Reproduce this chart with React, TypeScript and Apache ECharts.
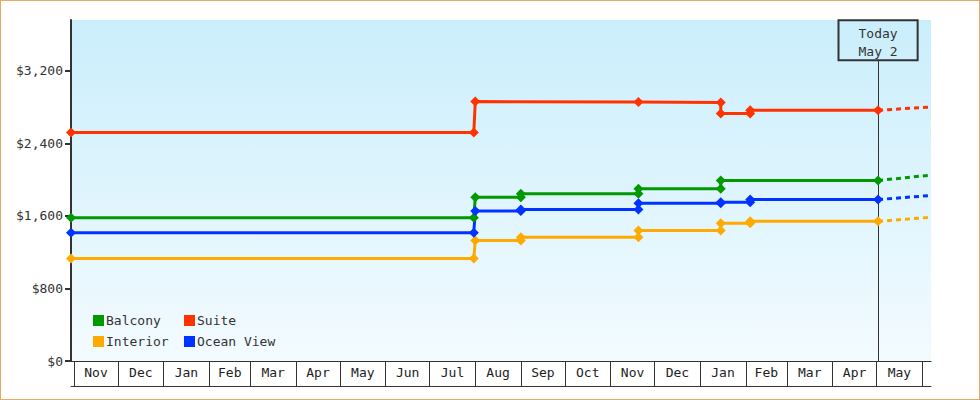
import { useEffect, useRef } from "react";
import * as echarts from "echarts";

const MONTH_NAMES = ["Jan", "Feb", "Mar", "Apr", "May", "Jun", "Jul", "Aug", "Sep", "Oct", "Nov", "Dec"];

// month boundaries drawn as the boxes under the axis
const MONTH_STARTS = [
  "2013-11-01", "2013-12-01", "2014-01-01", "2014-02-01", "2014-03-01", "2014-04-01",
  "2014-05-01", "2014-06-01", "2014-07-01", "2014-08-01", "2014-09-01", "2014-10-01",
  "2014-11-01", "2014-12-01", "2015-01-01", "2015-02-01", "2015-03-01", "2015-04-01",
  "2015-05-01", "2015-06-01",
];

const AXIS_START = "2013-10-30";
const AXIS_END = "2015-06-07";
const TODAY = "2015-05-02";
const TODAY_LABEL = "Today\nMay 2";

const PRICE_TICKS = [0, 800, 1600, 2400, 3200];
const PRICE_MAX = 3760;
const TODAY_BOX_BASE = 3315;

const balcony: [string, number][] = [
  ["2013-10-30", 1580],
  ["2014-07-31", 1580],
  ["2014-08-01", 1805],
  ["2014-09-01", 1805],
  ["2014-09-01", 1845],
  ["2014-11-20", 1845],
  ["2014-11-20", 1900],
  ["2015-01-15", 1900],
  ["2015-01-15", 1990],
  ["2015-05-02", 1990],
];

const suite: [string, number][] = [
  ["2013-10-30", 2520],
  ["2014-07-31", 2520],
  ["2014-08-01", 2860],
  ["2014-11-20", 2855],
  ["2015-01-15", 2850],
  ["2015-01-15", 2730],
  ["2015-02-04", 2730],
  ["2015-02-04", 2765],
  ["2015-05-02", 2765],
];

const interior: [string, number][] = [
  ["2013-10-30", 1130],
  ["2014-07-31", 1130],
  ["2014-08-01", 1330],
  ["2014-09-01", 1330],
  ["2014-09-01", 1365],
  ["2014-11-20", 1365],
  ["2014-11-20", 1440],
  ["2015-01-15", 1440],
  ["2015-01-15", 1520],
  ["2015-02-04", 1520],
  ["2015-02-04", 1540],
  ["2015-05-02", 1540],
];

const oceanView: [string, number][] = [
  ["2013-10-30", 1415],
  ["2014-07-31", 1415],
  ["2014-08-01", 1655],
  ["2014-09-01", 1655],
  ["2014-09-01", 1670],
  ["2014-11-20", 1670],
  ["2014-11-20", 1740],
  ["2015-01-15", 1740],
  ["2015-01-15", 1750],
  ["2015-02-04", 1750],
  ["2015-02-04", 1780],
  ["2015-05-02", 1780],
];

// dashed projection from today to the end of the axis
const balconyProjection: [string, number][] = [["2015-05-02", 1990], ["2015-06-07", 2050]];
const suiteProjection: [string, number][] = [["2015-05-02", 2765], ["2015-06-07", 2800]];
const interiorProjection: [string, number][] = [["2015-05-02", 1540], ["2015-06-07", 1585]];
const oceanViewProjection: [string, number][] = [["2015-05-02", 1780], ["2015-06-07", 1825]];

const CABINS = [
  { name: "Balcony", color: "#009900", points: balcony, projection: balconyProjection },
  { name: "Suite", color: "#ff3300", points: suite, projection: suiteProjection },
  { name: "Interior", color: "#ffaa00", points: interior, projection: interiorProjection },
  { name: "Ocean View", color: "#0033ff", points: oceanView, projection: oceanViewProjection },
];

const FONT = "'DejaVu Sans Mono', monospace";


function toTime(day: string): number {
  const [year, month, date] = day.split("-").map(Number);
  return new Date(year, month - 1, date).getTime();
}


function toSeriesData(points: [string, number][]): [number, number][] {
  return points.map(([day, price]) => [toTime(day), price]);
}


export default function App() {
  const containerRef = useRef<HTMLDivElement | null>(null);

  useEffect(() => {
    if (!containerRef.current) {
      return;
    }

    const chart = echarts.init(containerRef.current, undefined, { renderer: "svg" });

    const monthTicks = MONTH_STARTS.map(toTime);
    const monthMiddles = monthTicks.slice(0, -1).map((start, index) => (start + monthTicks[index + 1]) / 2);

    const legendCommon = {
      orient: "vertical" as const,
      icon: "rect",
      itemWidth: 11,
      itemHeight: 11,
      itemGap: 8,
      padding: 0,
      selectedMode: false,
      itemStyle: { borderWidth: 0 },
      textStyle: {
        fontFamily: FONT,
        fontSize: 13,
        color: "#333333",
        padding: [0, 0, 0, -3],
      },
    };

    const solidSeries = CABINS.map((cabin) => ({
      name: cabin.name,
      type: "line" as const,
      data: toSeriesData(cabin.points),
      color: cabin.color,
      z: 3,
      symbol: "diamond",
      symbolSize: 10,
      lineStyle: { width: 3, color: cabin.color },
      itemStyle: { color: cabin.color, borderWidth: 0 },
      emphasis: { disabled: true },
    }));

    const projectionSeries = CABINS.map((cabin) => ({
      name: cabin.name,
      type: "line" as const,
      data: toSeriesData(cabin.projection),
      color: cabin.color,
      z: 2,
      symbol: "none",
      lineStyle: { width: 3, color: cabin.color, type: [5, 4] },
      emphasis: { disabled: true },
    }));

    const option: echarts.EChartsOption = {
      animation: false,
      backgroundColor: "#ffffff",
      grid: {
        show: true,
        left: 70,
        right: 48,
        top: 19,
        bottom: 38,
        borderWidth: 0,
        backgroundColor: new echarts.graphic.LinearGradient(0, 0, 0, 1, [
          { offset: 0, color: "#caeefc" },
          { offset: 1, color: "#f3fbff" },
        ]),
      },
      legend: [
        { ...legendCommon, data: ["Balcony", "Interior"], left: 92, top: 313 },
        { ...legendCommon, data: ["Suite", "Ocean View"], left: 183, top: 313 },
      ],
      xAxis: [
        {
          type: "value",
          min: toTime(AXIS_START),
          max: toTime(AXIS_END),
          axisLine: { lineStyle: { color: "#333333", width: 1 } },
          axisTick: {
            show: true,
            customValues: monthTicks,
            length: 25,
            lineStyle: { color: "#333333", width: 1 },
          },
          axisLabel: {
            customValues: monthMiddles,
            formatter: (value: number) => MONTH_NAMES[new Date(value).getMonth()],
            margin: 5,
            color: "#222222",
            fontFamily: FONT,
            fontSize: 13,
          },
          splitLine: { show: false },
        },
        {
          type: "value",
          position: "bottom",
          offset: 25,
          min: toTime(AXIS_START),
          max: toTime(AXIS_END),
          axisLine: { show: true, lineStyle: { color: "#333333", width: 1 } },
          axisTick: { show: false },
          axisLabel: { show: false },
          splitLine: { show: false },
        },
      ],
      yAxis: {
        type: "value",
        min: 0,
        max: PRICE_MAX,
        axisLine: { show: true, lineStyle: { color: "#333333", width: 2 } },
        axisTick: {
          show: true,
          customValues: PRICE_TICKS,
          length: 6,
          lineStyle: { color: "#333333", width: 2 },
        },
        axisLabel: {
          customValues: PRICE_TICKS,
          formatter: (value: number) => "$" + value.toLocaleString("en-US"),
          margin: 8,
          color: "#333333",
          fontFamily: FONT,
          fontSize: 13,
        },
        splitLine: { show: false },
      },
      series: [
        ...solidSeries,
        ...projectionSeries,
        {
          name: "today",
          type: "line",
          data: [],
          z: 1,
          markLine: {
            silent: true,
            symbol: "none",
            z: 1,
            lineStyle: { color: "#333333", width: 1, type: "solid" },
            label: {
              show: true,
              position: "end",
              distance: 0,
              formatter: TODAY_LABEL,
              fontFamily: FONT,
              fontSize: 13,
              lineHeight: 18,
              color: "#333333",
              align: "center",
              padding: [4, 20, 0, 20],
              borderColor: "#333333",
              borderWidth: 1,
              backgroundColor: "transparent",
            },
            data: [
              [
                { coord: [toTime(TODAY), 0] },
                { coord: [toTime(TODAY), TODAY_BOX_BASE] },
              ],
            ],
          },
        },
      ],
    };

    chart.setOption(option);

    return () => {
      chart.dispose();
    };
  }, []);

  return (
    <div
      style={{
        position: "absolute",
        left: 0,
        top: 0,
        width: 980,
        height: 400,
        boxSizing: "border-box",
        border: "1px solid #e8a962",
        background: "#ffffff",
      }}
    >
      <div ref={containerRef} style={{ width: 978, height: 398 }} />
    </div>
  );
}
